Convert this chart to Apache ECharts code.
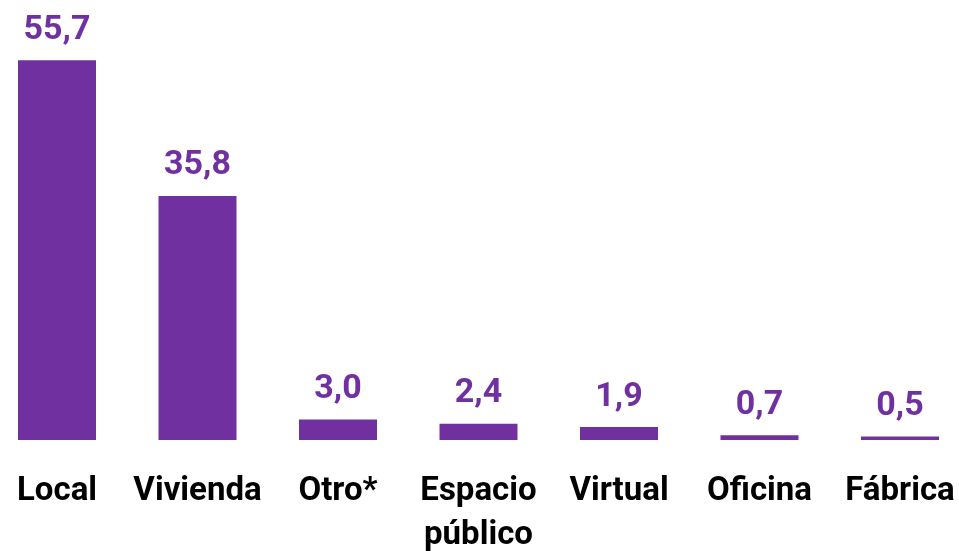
<!DOCTYPE html>
<html>
<head>
<meta charset="utf-8">
<script src="https://cdn.jsdelivr.net/npm/echarts@6/dist/echarts.min.js"></script>
<style>
  html, body { margin: 0; padding: 0; background: #fff; }
  #chart { width: 959px; height: 551px; }
</style>
</head>
<body>
<div id="chart"></div>
<script>
// categorías y porcentajes
const categories = ['Local', 'Vivienda', 'Otro*', 'Espacio\npúblico', 'Virtual', 'Oficina', 'Fábrica'];
const values = [55.7, 35.8, 3.0, 2.4, 1.9, 0.7, 0.5];

const purple = '#7030A0';
const fontFamily = 'Roboto, "Open Sans", sans-serif';

const chart = echarts.init(document.getElementById('chart'));

chart.setOption({
  animation: false,
  grid: {
    left: -13.25,
    right: -11.25,
    top: 31,
    bottom: 111,
    containLabel: false,
    outerBoundsMode: 'none'
  },
  xAxis: {
    type: 'category',
    data: categories,
    axisLine: { show: false },
    axisTick: { show: false },
    axisLabel: {
      interval: 0,
      margin: 30,
      color: '#000',
      fontFamily: fontFamily,
      fontWeight: 'bold',
      fontSize: 33,
      lineHeight: 44
    }
  },
  yAxis: {
    type: 'value',
    min: 0,
    max: 60,
    show: false,
    splitLine: { show: false }
  },
  series: [{
    type: 'bar',
    data: values,
    barWidth: 78,
    itemStyle: { color: purple },
    label: {
      show: true,
      position: 'top',
      distance: 13,
      color: purple,
      fontFamily: fontFamily,
      fontWeight: 'bold',
      fontSize: 34,
      formatter: function (p) {
        return p.value.toFixed(1).replace('.', ',');
      }
    }
  }]
});
</script>
</body>
</html>
